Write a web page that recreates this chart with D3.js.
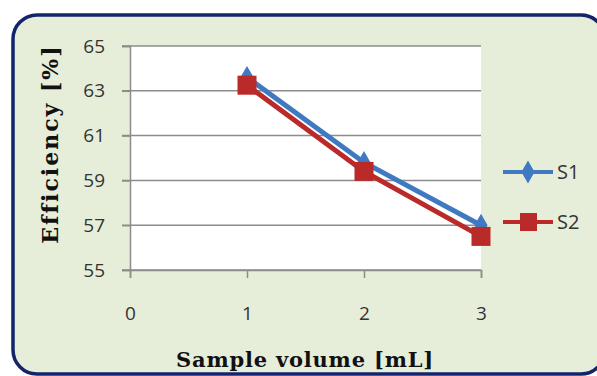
<!DOCTYPE html>
<html>
<head>
<meta charset="utf-8">
<script src="https://cdn.jsdelivr.net/npm/d3@7"></script>
<style>
  html, body { margin: 0; padding: 0; background: #fff; }
  svg { display: block; }
</style>
</head>
<body>
<div id="chart"></div>
<script>
// Data
const volumes = [1, 2, 3];
const s1 = [63.6, 59.8, 57.0];
const s2 = [63.25, 59.4, 56.5];
const xTicks = [0, 1, 2, 3];
const yTicks = [55, 57, 59, 61, 63, 65];
const seriesNames = ["S1", "S2"];

const W = 597, H = 376;
const blue = "#3F79C2", red = "#BA2A29";
const tickFont = "'Open Sans', 'DejaVu Sans', sans-serif";
const titleFont = "'DejaVu Serif', 'Liberation Serif', serif";

const svg = d3.select("#chart").append("svg")
  .attr("width", W).attr("height", H);

// chart background with rounded navy border
svg.append("rect")
  .attr("x", 13).attr("y", 15)
  .attr("width", 592).attr("height", 359)
  .attr("rx", 24).attr("ry", 24)
  .attr("fill", "#E6EED9")
  .attr("stroke", "#14246A")
  .attr("stroke-width", 3.5);

const plot = { left: 130, right: 481, top: 46, bottom: 270 };

const x = d3.scaleLinear().domain([0, 3]).range([plot.left, plot.right]);
const y = d3.scaleLinear().domain([55, 65]).range([plot.bottom, plot.top]);

// plot area
svg.append("rect")
  .attr("x", plot.left).attr("y", plot.top)
  .attr("width", plot.right - plot.left)
  .attr("height", plot.bottom - plot.top)
  .attr("fill", "#fff");

// horizontal gridlines
svg.append("g")
  .selectAll("line")
  .data(yTicks)
  .join("line")
  .attr("x1", plot.left - 8).attr("x2", plot.right)
  .attr("y1", d => y(d)).attr("y2", d => y(d))
  .attr("stroke", "#8C8C8C")
  .attr("stroke-width", 1.5);

// y axis
const yAxis = svg.append("g")
  .attr("transform", `translate(${plot.left},0)`)
  .call(d3.axisLeft(y).tickValues(yTicks).tickSize(8).tickPadding(17).tickFormat(d3.format("d")));
yAxis.select(".domain").attr("stroke", "#8C8C8C").attr("stroke-width", 1.5);
yAxis.selectAll(".tick line").attr("stroke", "#8C8C8C").attr("stroke-width", 1.5);
yAxis.selectAll("text")
  .attr("font-family", tickFont)
  .attr("font-size", 19).attr("fill", "#333");

// x axis
const xAxis = svg.append("g")
  .attr("transform", `translate(0,${plot.bottom})`)
  .call(d3.axisBottom(x).tickValues(xTicks).tickSize(8).tickPadding(29).tickFormat(d3.format("d")));
xAxis.select(".domain").attr("stroke", "#8C8C8C").attr("stroke-width", 1.5);
xAxis.selectAll(".tick line").attr("stroke", "#8C8C8C").attr("stroke-width", 1.5);
xAxis.selectAll("text")
  .attr("font-family", tickFont)
  .attr("font-size", 19).attr("fill", "#333");

// axis titles
svg.append("text")
  .attr("transform", `translate(58, 144) rotate(-90)`)
  .attr("text-anchor", "middle")
  .attr("font-family", titleFont)
  .attr("font-weight", "bold")
  .attr("font-size", 22)
  .attr("letter-spacing", 2)
  .attr("fill", "#111")
  .text("Efficiency [%]");

svg.append("text")
  .attr("x", 305).attr("y", 367)
  .attr("text-anchor", "middle")
  .attr("font-family", titleFont)
  .attr("font-weight", "bold")
  .attr("font-size", 21)
  .attr("letter-spacing", 0.8)
  .attr("fill", "#111")
  .text("Sample volume [mL]");

// series
const line = d3.line().x(d => x(d[0])).y(d => y(d[1]));
const series = [
  { name: seriesNames[0], values: s1, color: blue, marker: "diamond" },
  { name: seriesNames[1], values: s2, color: red, marker: "square" }
];

const diamond = d3.symbol().type(d3.symbolDiamond).size(150);

series.forEach(s => {
  const pts = volumes.map((v, i) => [v, s.values[i]]);
  svg.append("path")
    .datum(pts)
    .attr("fill", "none")
    .attr("stroke", s.color)
    .attr("stroke-width", 5)
    .attr("d", line);
  if (s.marker === "diamond") {
    svg.selectAll(null).data(pts).join("path")
      .attr("transform", d => `translate(${x(d[0])},${y(d[1])})`)
      .attr("d", diamond)
      .attr("fill", s.color);
  } else {
    svg.selectAll(null).data(pts).join("rect")
      .attr("x", d => x(d[0]) - 9.5).attr("y", d => y(d[1]) - 9.5)
      .attr("width", 19).attr("height", 19)
      .attr("fill", s.color);
  }
});

// legend
const legend = svg.append("g").attr("transform", "translate(503,172)");
series.forEach((s, i) => {
  const g = legend.append("g").attr("transform", `translate(0,${i * 50})`);
  g.append("line")
    .attr("x1", 0).attr("x2", 50)
    .attr("stroke", s.color).attr("stroke-width", 4);
  if (s.marker === "diamond") {
    g.append("path").attr("transform", "translate(25,0)")
      .attr("d", diamond).attr("fill", s.color);
  } else {
    g.append("rect").attr("x", 17).attr("y", -9)
      .attr("width", 17).attr("height", 18).attr("fill", s.color);
  }
  g.append("text")
    .attr("x", 54).attr("y", 0)
    .attr("dy", "0.35em")
    .attr("font-family", tickFont)
    .attr("font-size", 20).attr("fill", "#333")
    .text(s.name);
});
</script>
</body>
</html>
